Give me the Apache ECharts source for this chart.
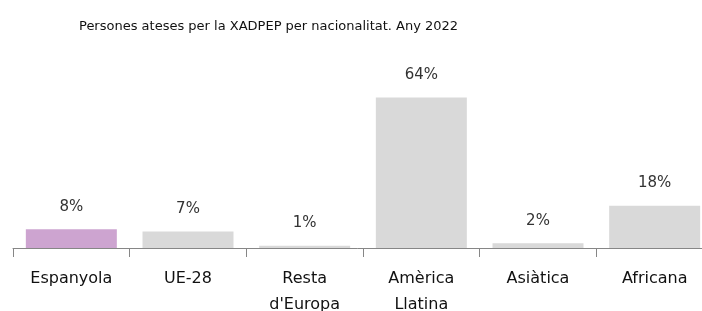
<!DOCTYPE html>
<html lang="ca">
<head>
    <meta charset="UTF-8">
    <title>Persones ateses per la XADPEP per nacionalitat</title>
    <script src="https://cdn.jsdelivr.net/npm/echarts@6/dist/echarts.min.js"></script>
</head>
<body style="margin:0;background:#fff">
    <div id="main" style="width:702px;height:311px;"></div>

    <script type="text/javascript">
        var categories = ['Espanyola', 'UE-28', 'Resta\nd\'Europa', 'Amèrica\nLlatina', 'Asiàtica', 'Africana']
        var values = [8, 7, 1, 64, 2, 18]
        var barColors = ['#cda4d0', '#d9d9d9', '#d9d9d9', '#d9d9d9', '#d9d9d9', '#d9d9d9']

        var myChart = echarts.init(document.getElementById('main'))

        var seriesData = values.map(function (v, i) {
            return { value: v, itemStyle: { color: barColors[i] } }
        })

        var option = {
            animation: false,
            title: {
                text: 'Persones ateses per la XADPEP per nacionalitat. Any 2022',
                left: 74,
                top: 15,
                textStyle: {
                    fontFamily: 'DejaVu Sans',
                    fontSize: 13,
                    fontWeight: 'normal',
                    color: '#111'
                }
            },
            grid: {
                left: 13,
                right: -11,
                top: 60,
                bottom: 63,
                containLabel: false,
                outerBoundsMode: 'none'
            },
            xAxis: {
                type: 'category',
                data: categories,
                axisLine: { show: true, lineStyle: { color: '#868686', width: 1 } },
                axisTick: { show: true, length: 9, lineStyle: { color: '#868686' } },
                axisLabel: {
                    fontFamily: 'DejaVu Sans',
                    fontSize: 16,
                    color: '#111',
                    margin: 18,
                    lineHeight: 26,
                    interval: 0
                }
            },
            yAxis: {
                type: 'value',
                min: 0,
                max: 80,
                show: false,
                splitLine: { show: false }
            },
            series: [{
                type: 'bar',
                data: seriesData,
                barWidth: '78%',
                label: {
                    show: true,
                    position: 'top',
                    distance: 15,
                    formatter: '{c}%',
                    fontFamily: 'DejaVu Sans',
                    fontSize: 15,
                    color: '#333'
                }
            }]
        }
        myChart.setOption(option)
    </script>
</body>
</html>
